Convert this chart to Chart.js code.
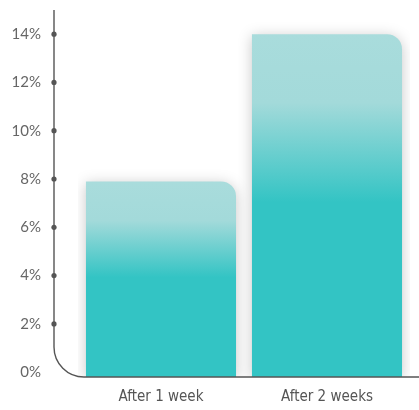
<!DOCTYPE html>
<html>
<head>
<meta charset="utf-8">
<script src="https://cdn.jsdelivr.net/npm/chart.js@4/dist/chart.umd.min.js"></script>
<style>
  html, body { margin: 0; padding: 0; background: #fff; }
  #wrap { width: 419px; height: 410px; position: relative; }
</style>
</head>
<body>
<div id="wrap"><canvas id="chart"></canvas></div>
<script>
// Retention chart - two bars, percent axis

const categories = ["After 1 week", "After 2 weeks"];
const values = [7.9, 14];
const yTicks = [0, 2, 4, 6, 8, 10, 12, 14];

const AXIS_X = 54;
const AXIS_COLOR = "#555";

function barGradient(ctx) {
  const chart = ctx.chart;
  const area = chart.chartArea;
  if (!area || ctx.type !== "data") return "#33c4c4";
  const y = chart.scales.y;
  const top = y.getPixelForValue(values[ctx.dataIndex]);
  const bottom = area.bottom;
  const g = chart.ctx.createLinearGradient(0, top, 0, bottom);
  g.addColorStop(0, "#a9dcdc");
  g.addColorStop(0.2, "#a3dada");
  g.addColorStop(0.49, "#33c4c4");
  g.addColorStop(1, "#33c4c4");
  return g;
}

// shadow under bars
const barShadow = {
  id: "barShadow",
  beforeDatasetsDraw(chart) {
    const c = chart.ctx;
    c.save();
    c.shadowColor = "rgba(0,0,0,0.22)";
    c.shadowBlur = 14;
    c.shadowOffsetY = 2;
  },
  afterDatasetsDraw(chart) {
    chart.ctx.restore();
  }
};

// rounded axis line with dots at each tick
const roundedAxis = {
  id: "roundedAxis",
  afterDatasetsDraw(chart) {
    const c = chart.ctx;
    const area = chart.chartArea;
    const y = chart.scales.y;
    const r = 30;
    c.save();
    c.strokeStyle = AXIS_COLOR;
    c.lineWidth = 1.4;
    c.beginPath();
    c.moveTo(AXIS_X, area.top);
    c.lineTo(AXIS_X, area.bottom - r);
    c.arcTo(AXIS_X, area.bottom, AXIS_X + r, area.bottom, r);
    c.lineTo(chart.width, area.bottom);
    c.stroke();
    c.fillStyle = AXIS_COLOR;
    yTicks.forEach(t => {
      if (t === 0) return;
      c.beginPath();
      c.arc(AXIS_X, y.getPixelForValue(t), 2.6, 0, Math.PI * 2);
      c.fill();
    });
    c.restore();
  }
};

new Chart(document.getElementById("chart"), {
  type: "bar",
  data: {
    labels: categories,
    datasets: [{
      data: values,
      base: -0.2,
      backgroundColor: barGradient,
      borderWidth: 0,
      borderRadius: { topLeft: 0, topRight: 15, bottomLeft: 0, bottomRight: 0 },
      borderSkipped: "start",
      barPercentage: 0.904,
      categoryPercentage: 1
    }]
  },
  options: {
    responsive: true,
    maintainAspectRatio: false,
    animation: false,
    layout: { padding: { top: 10, right: 9, left: 0, bottom: 0 } },
    plugins: { legend: { display: false }, tooltip: { enabled: false } },
    scales: {
      x: {
        grid: { display: false, drawTicks: false },
        border: { display: false },
        ticks: {
          color: "#555",
          padding: 11,
          font: { family: "'Liberation Sans Narrow', 'DejaVu Sans Condensed', sans-serif", size: 15 }
        },
        afterFit(scale) { scale.height = 33; }
      },
      y: {
        min: -0.2,
        max: 15,
        grid: { display: false, drawTicks: false },
        border: { display: false },
        afterBuildTicks(scale) { scale.ticks = yTicks.map(v => ({ value: v })); },
        afterFit(scale) {
          scale.width = 78;
          scale.paddingTop = 0;
          scale.paddingBottom = 0;
        },
        ticks: {
          color: "#666",
          padding: 37,
          font: { family: "Lato, sans-serif", size: 15 },
          callback: v => v + "%"
        }
      }
    }
  },
  plugins: [barShadow, roundedAxis]
});
</script>
</body>
</html>
